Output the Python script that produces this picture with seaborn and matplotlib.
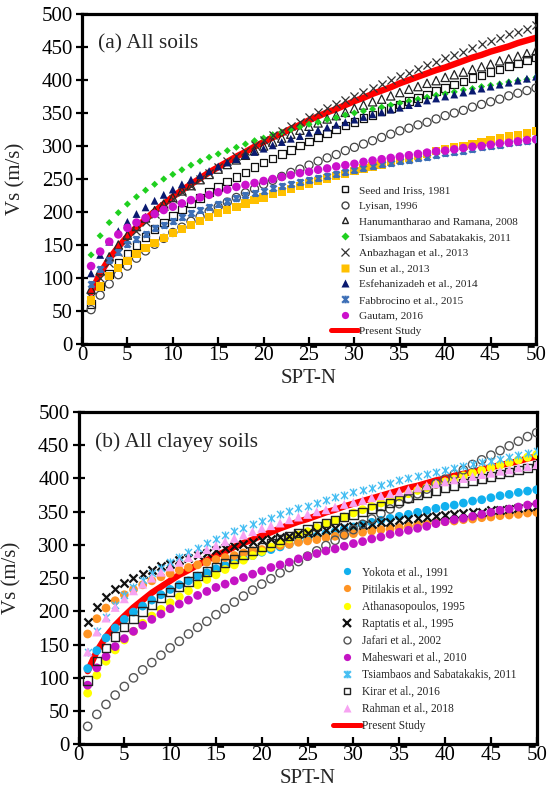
import matplotlib
matplotlib.use("Agg")
import matplotlib.pyplot as plt
from matplotlib.path import Path
from matplotlib.lines import Line2D
import seaborn as sns

# SPT blow count shared by every correlation
spt_n = list(range(1, 51))

# ---- (a) All soils: shear-wave velocity Vs (m/s) for N = 1..50 ----
vs_seed_idriss_1981 = [61, 87, 106, 123, 137, 150, 162, 174, 184, 194, 204, 213, 221, 230, 238, 246, 253, 260, 268, 275,
                       281, 288, 294, 301, 307, 313, 319, 325, 331, 336, 342, 347, 353, 358, 363, 368, 373, 378, 383, 388,
                       393, 398, 403, 407, 412, 416, 421, 425, 430, 434]
vs_lyisan_1996 = [52, 74, 91, 105, 118, 130, 141, 151, 160, 169, 177, 186, 193, 201, 208, 215, 222, 229, 235, 242,
                  248, 254, 260, 265, 271, 277, 282, 287, 293, 298, 303, 308, 313, 318, 323, 327, 332, 336, 341, 346,
                  350, 354, 359, 363, 367, 371, 376, 380, 384, 388]
vs_hanumantharao_2008 = [83, 111, 132, 150, 165, 178, 191, 202, 212, 222, 232, 240, 249, 257, 265, 272, 279, 286, 293, 300,
                         306, 312, 318, 324, 330, 335, 341, 346, 351, 357, 362, 367, 371, 376, 381, 386, 390, 395, 399, 404,
                         408, 412, 416, 420, 424, 429, 432, 436, 440, 444]
vs_tsiambaos_2011_all = [135, 164, 184, 199, 212, 223, 233, 242, 250, 257, 264, 271, 277, 283, 288, 293, 298, 303, 308, 312,
                         317, 321, 325, 329, 333, 336, 340, 343, 347, 350, 353, 356, 359, 362, 365, 368, 371, 374, 377, 379,
                         382, 385, 387, 390, 392, 394, 397, 399, 401, 404]
vs_anbazhagan_2013 = [71, 100, 122, 140, 157, 171, 185, 197, 209, 220, 230, 240, 250, 259, 268, 277, 285, 293, 301, 309,
                      316, 323, 330, 337, 344, 351, 357, 364, 370, 376, 382, 388, 394, 400, 406, 411, 417, 422, 428, 433,
                      438, 443, 449, 454, 459, 464, 469, 473, 478, 483]
vs_sun_2013 = [66, 87, 103, 115, 126, 136, 145, 153, 161, 168, 174, 180, 186, 192, 198, 203, 208, 213, 218, 222,
               227, 231, 235, 239, 243, 247, 251, 255, 258, 262, 266, 269, 272, 276, 279, 282, 285, 288, 292, 295,
               298, 300, 303, 306, 309, 312, 315, 317, 320, 323]
vs_esfehanizadeh_2014 = [107, 135, 155, 171, 185, 197, 207, 217, 226, 234, 242, 249, 256, 262, 269, 275, 280, 286, 291, 296,
                         301, 306, 311, 315, 320, 324, 328, 332, 336, 340, 344, 348, 351, 355, 358, 362, 365, 369, 372, 375,
                         378, 381, 384, 387, 390, 393, 396, 399, 402, 405]
vs_fabbrocino_2015 = [91, 113, 128, 140, 151, 159, 167, 175, 181, 187, 193, 198, 203, 208, 212, 217, 221, 225, 229, 232,
                      236, 239, 243, 246, 249, 252, 255, 258, 261, 264, 267, 269, 272, 274, 277, 279, 282, 284, 286, 289,
                      291, 293, 295, 298, 300, 302, 304, 306, 308, 310]
vs_gautam_2016 = [118, 140, 155, 166, 176, 184, 191, 197, 203, 208, 213, 218, 222, 226, 230, 234, 238, 241, 244, 247,
                  250, 253, 256, 259, 261, 264, 266, 269, 271, 273, 276, 278, 280, 282, 284, 286, 288, 290, 292, 293,
                  295, 297, 299, 300, 302, 304, 305, 307, 309, 310]
vs_present_all = [78, 107, 129, 147, 163, 177, 189, 201, 212, 223, 233, 242, 251, 260, 268, 276, 284, 291, 299, 306,
                  313, 319, 326, 332, 339, 345, 351, 356, 362, 368, 373, 379, 384, 389, 395, 400, 405, 410, 415, 419,
                  424, 429, 434, 438, 443, 447, 451, 456, 460, 464]

# ---- (b) All clayey soils ----
vs_yokota_1991 = [114, 141, 160, 175, 188, 199, 208, 217, 225, 233, 240, 246, 253, 258, 264, 269, 274, 279, 284, 289,
                  293, 297, 301, 305, 309, 313, 317, 320, 324, 327, 331, 334, 337, 340, 343, 346, 349, 352, 355, 358,
                  360, 363, 366, 368, 371, 374, 376, 379, 381, 383]
vs_pitilakis_1992 = [166, 189, 205, 216, 225, 233, 240, 246, 252, 257, 262, 266, 270, 274, 278, 281, 284, 288, 291, 293,
                     296, 299, 301, 304, 306, 308, 311, 313, 315, 317, 319, 321, 323, 324, 326, 328, 330, 331, 333, 335,
                     336, 338, 339, 341, 342, 344, 345, 346, 348, 349]
vs_athanasopoulos_1995 = [77, 104, 125, 142, 157, 170, 182, 193, 203, 213, 222, 231, 240, 248, 255, 263, 270, 277, 284, 290,
                          297, 303, 309, 315, 320, 326, 332, 337, 342, 348, 353, 358, 363, 367, 372, 377, 382, 386, 391, 395,
                          399, 404, 408, 412, 416, 420, 424, 428, 432, 436]
vs_raptakis_1995 = [184, 207, 222, 233, 242, 250, 256, 262, 268, 272, 277, 281, 285, 288, 292, 295, 298, 301, 304, 307,
                    309, 312, 314, 316, 318, 320, 323, 325, 327, 328, 330, 332, 334, 335, 337, 339, 340, 342, 343, 345,
                    346, 348, 349, 350, 352, 353, 354, 356, 357, 358]
vs_jafari_2002 = [27, 45, 60, 74, 87, 100, 112, 123, 134, 145, 155, 166, 176, 185, 195, 204, 214, 223, 232, 241,
                  249, 258, 266, 275, 283, 291, 299, 307, 315, 323, 331, 339, 347, 354, 362, 369, 377, 384, 392, 399,
                  406, 413, 421, 428, 435, 442, 449, 456, 463, 469]
vs_maheswari_2010 = [89, 115, 132, 147, 159, 170, 179, 188, 196, 204, 211, 217, 224, 230, 236, 241, 246, 251, 256, 261,
                     266, 270, 274, 279, 283, 287, 291, 294, 298, 302, 305, 309, 312, 316, 319, 322, 325, 328, 332, 335,
                     338, 340, 343, 346, 349, 352, 354, 357, 360, 362]
vs_tsiambaos_2011_clay = [139, 171, 192, 209, 224, 236, 247, 257, 266, 274, 282, 289, 296, 303, 309, 315, 321, 326, 331, 336,
                          341, 346, 351, 355, 359, 363, 368, 372, 375, 379, 383, 386, 390, 393, 397, 400, 403, 407, 410, 413,
                          416, 419, 422, 425, 427, 430, 433, 436, 438, 441]
vs_kirar_2016 = [96, 125, 145, 162, 176, 189, 200, 210, 220, 229, 237, 245, 253, 260, 267, 273, 279, 285, 291, 297,
                 303, 308, 313, 318, 323, 328, 333, 337, 342, 346, 350, 355, 359, 363, 367, 371, 375, 378, 382, 386,
                 389, 393, 396, 400, 403, 407, 410, 413, 416, 420]
vs_rahman_2018 = [139, 169, 190, 206, 219, 231, 241, 250, 259, 267, 274, 281, 287, 293, 299, 305, 310, 315, 320, 325,
                  329, 333, 338, 342, 346, 350, 353, 357, 361, 364, 367, 371, 374, 377, 380, 383, 386, 389, 392, 395,
                  398, 400, 403, 406, 408, 411, 413, 416, 418, 421]
vs_present_clay = [110, 140, 162, 179, 193, 206, 217, 228, 237, 246, 255, 262, 270, 277, 284, 290, 297, 303, 308, 314,
                   319, 325, 330, 335, 339, 344, 349, 353, 358, 362, 366, 370, 374, 378, 382, 386, 389, 393, 397, 400,
                   404, 407, 410, 414, 417, 420, 423, 426, 430, 433]

x_ticks = list(range(0, 51, 5))
y_ticks = list(range(0, 501, 50))

sns.set_theme(style="ticks")
plt.rcParams["font.family"] = ["Liberation Serif", "DejaVu Serif"]

# Excel-style "star": an x with a vertical bar through it
ASTERISK = Path([(-1, -1), (1, 1), (-1, 1), (1, -1), (0, -1.15), (0, 1.15)],
                [Path.MOVETO, Path.LINETO, Path.MOVETO, Path.LINETO, Path.MOVETO, Path.LINETO])

RED = "#FF0000"

# label, values, marker, face, edge, size (pt^2), edge width
series_a = [
    ("Seed and Iriss, 1981", vs_seed_idriss_1981, "s", "none", "#111111", 30, 0.9),
    ("Lyisan, 1996", vs_lyisan_1996, "o", "none", "#444444", 34, 0.9),
    ("Hanumantharao and Ramana, 2008", vs_hanumantharao_2008, "^", "none", "#222222", 36, 0.9),
    ("Tsiambaos and Sabatakakis, 2011", vs_tsiambaos_2011_all, "D", "#1FD01F", "none", 13, 0.0),
    ("Anbazhagan et al., 2013", vs_anbazhagan_2013, "x", "#333333", "#333333", 34, 0.9),
    ("Sun et al., 2013", vs_sun_2013, "s", "#FFC000", "none", 36, 0.0),
    ("Esfehanizadeh et al., 2014", vs_esfehanizadeh_2014, "^", "#0A1A70", "none", 32, 0.0),
    ("Fabbrocino et al., 2015", vs_fabbrocino_2015, ASTERISK, "#3D6FB6", "#3D6FB6", 26, 1.8),
    ("Gautam, 2016", vs_gautam_2016, "o", "#CC11CC", "none", 38, 0.0),
]
series_b = [
    ("Yokota et al., 1991", vs_yokota_1991, "o", "#11B0EE", "none", 40, 0.0),
    ("Pitilakis et al., 1992", vs_pitilakis_1992, "o", "#FF9424", "none", 40, 0.0),
    ("Athanasopoulos, 1995", vs_athanasopoulos_1995, "o", "#FFFF00", "none", 40, 0.0),
    ("Raptatis et al., 1995", vs_raptakis_1995, "x", "#111111", "#111111", 34, 1.6),
    ("Jafari et al., 2002", vs_jafari_2002, "o", "none", "#555555", 36, 1.0),
    ("Maheswari et al., 2010", vs_maheswari_2010, "o", "#C414C4", "none", 40, 0.0),
    ("Tsiambaos and Sabatakakis, 2011", vs_tsiambaos_2011_clay, ASTERISK, "#47BFF2", "#47BFF2", 34, 1.0),
    ("Kirar et al., 2016", vs_kirar_2016, "s", "none", "#222222", 36, 1.0),
    ("Rahman et al., 2018", vs_rahman_2018, "^", "#F7A3F2", "none", 42, 0.0),
]

fig = plt.figure(figsize=(5.49, 7.96), dpi=100)
ax_a = fig.add_axes([82 / 549, 1 - 344 / 796, 454 / 549, 330 / 796])
ax_b = fig.add_axes([78.5 / 549, 1 - 744.3 / 796, 458.2 / 549, 332.3 / 796])


def draw_panel(ax, series, present, title, legend_anchor, leg_fs, leg_spacing):
    sns.lineplot(x=spt_n, y=present, color=RED, linewidth=4.6, ax=ax, zorder=2, legend=False)
    handles = []
    for label, vals, marker, face, edge, size, lw in series:
        kws = dict(x=spt_n, y=vals, marker=marker, s=size, linewidth=lw, ax=ax, zorder=3, legend=False)
        if marker == "x":
            kws["color"] = face
        elif face == "none":
            kws["facecolor"] = "none"
            kws["edgecolor"] = edge
        elif marker is ASTERISK:
            kws["color"] = face
            kws["edgecolor"] = edge
        else:
            kws["color"] = face
            kws["edgecolor"] = "none"
        sns.scatterplot(**kws)
        if marker == "x":
            h = Line2D([], [], linestyle="none", marker="x", markersize=5.5, color=face, markeredgewidth=max(lw, 0.9))
        elif marker is ASTERISK:
            h = Line2D([], [], linestyle="none", marker=marker, markersize=5.5, markerfacecolor=face,
                       markeredgecolor=edge, markeredgewidth=1.6)
        elif face == "none":
            h = Line2D([], [], linestyle="none", marker=marker, markersize=5.0, markerfacecolor="none",
                       markeredgecolor=edge, markeredgewidth=1.0)
        else:
            ms = 3.6 if marker == "D" else 5.2
            h = Line2D([], [], linestyle="none", marker=marker, markersize=ms, markerfacecolor=face,
                       markeredgecolor="none")
        handles.append(h)
    handles.append(Line2D([], [], color=RED, linewidth=3.6))
    labels = [s[0] for s in series] + ["Present Study"]

    ax.set_xlim(0, 50)
    ax.set_ylim(0, 500)
    ax.set_xticks(x_ticks)
    ax.set_yticks(y_ticks)
    ax.tick_params(axis="y", direction="inout", length=8, width=1.6, labelsize=15, pad=2.5, colors="black")
    ax.tick_params(axis="x", direction="in", length=5, width=1.6, labelsize=15, pad=1.5, colors="black")
    for sp in ax.spines.values():
        sp.set_visible(True)
        sp.set_linewidth(2.3)
        sp.set_color("black")
    ax.set_xlabel("SPT-N", fontsize=15)
    ax.set_ylabel("Vs (m/s)", fontsize=15)
    ax.xaxis.set_label_coords(0.5, -0.075)
    ax.yaxis.set_label_coords(-0.125, 0.5)
    ax.text(0.036, 0.91, title, transform=ax.transAxes, fontsize=15.4, ha="left", va="center")
    ax.legend(handles, labels, loc="upper left", bbox_to_anchor=legend_anchor, frameon=False,
              fontsize=leg_fs, borderpad=0, borderaxespad=0, handlelength=2.4, handletextpad=0.1,
              labelspacing=leg_spacing, markerscale=1.0)


draw_panel(ax_a, series_a, vs_present_all, "(a) All soils", (0.549, 0.482), 8.1, 0.52)
draw_panel(ax_b, series_b, vs_present_clay, "(b) All clayey soils", (0.556, 0.535), 8.3, 0.435)

fig.savefig("out.png", dpi=100)
